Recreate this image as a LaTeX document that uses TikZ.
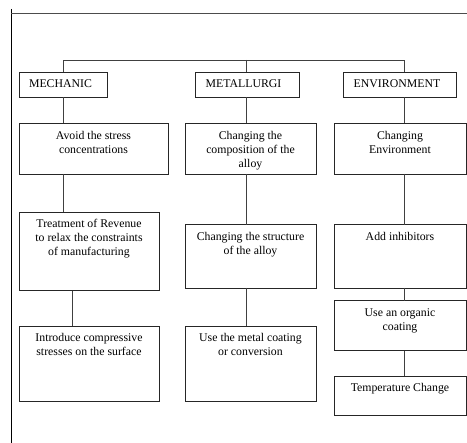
\documentclass[tikz,border=0pt]{standalone}
\usepackage{fontspec}
\setmainfont{Liberation Serif}
\begin{document}
\begin{tikzpicture}[x=1pt,y=-1pt,
  box/.style={draw=black!85, line width=0.8pt, inner sep=0pt, outer sep=0pt,
    font=\fontsize{11.8}{14}\selectfont},
  conn/.style={draw=black!75, line width=0.8pt},
  frame/.style={draw=black, line width=0.9pt}]
\useasboundingbox (0,0) rectangle (467,443);
\newcommand{\bx}[6]{%
  \node[box] (#1) at ({(#2)}, {(#3)}) {\parbox[c][#5pt][t]{#4pt}{\centering\rule{0pt}{15.8pt}#6\par}};}
% frame
\coordinate (ftop) at (11,9);
\coordinate (fbot) at (11,443);
\coordinate (fleft) at (11,13);
\coordinate (fright) at (467,13);
\draw[frame] (ftop) -- (fbot);
\draw[frame, draw=black!70] (fleft) -- (fright);
% column coordinates
\coordinate (cm) at (63,0);
\coordinate (cm2) at (72,0);
\coordinate (cc) at (246.5,0);
\coordinate (ce) at (404.3,0);
\coordinate (bus) at (0,60);
% level 1
\bx{mech}{(19+107)/2}{(72+97.3)/2}{88}{25.3}{MECHANIC\hspace*{5pt}}
\bx{met}{(195+299)/2}{(72+97.3)/2}{104}{25.3}{METALLURGI\hspace*{7pt}}
\bx{env}{(343+456)/2}{(72+97.3)/2}{113}{25.3}{ENVIRONMENT\hspace*{5pt}}
% level 2
\bx{mech2}{(19+168)/2}{(123.3+174)/2}{149}{50.7}{Avoid the stress\\concentrations}
\bx{met2}{(185+316)/2}{(123.3+174)/2}{131}{50.7}{Changing the\\composition of the\\alloy}
\bx{env2}{(334+466)/2}{(123.3+174)/2}{132}{50.7}{Changing\\Environment}
% level 3
\bx{mech3}{(19+159)/2}{(212+290.7)/2}{140}{78.7}{Treatment of Revenue\\to relax the constraints\\of manufacturing}
\bx{met3}{(185+316)/2}{(224.7+288)/2}{131}{63.3}{Changing the structure\\of the alloy}
\bx{env3}{(334+466)/2}{(224.7+288)/2}{132}{63.3}{Add inhibitors}
% level 4
\bx{mech4}{(19+159)/2}{(326+401.3)/2}{140}{75.3}{Introduce compressive\\stresses on the surface}
\bx{met4}{(185+316)/2}{(326+401.3)/2}{131}{75.3}{Use the metal coating\\or conversion}
\bx{env4}{(334+466)/2}{(300.7+350.7)/2}{132}{50}{Use an organic\\coating}
% level 5
\bx{env5}{(334+466)/2}{(376+415)/2}{132}{39}{Temperature Change}
% bus
\draw[conn] (mech.north -| cm) -- (bus -| cm) -- (bus -| ce) -- (env.north -| ce);
\draw[conn] (bus -| cc) -- (met.north -| cc);
% mechanic column
\draw[conn] (mech.south -| cm) -- (mech2.north -| cm);
\draw[conn] (mech2.south -| cm) -- (mech3.north -| cm);
\draw[conn] (mech3.south -| cm2) -- (mech4.north -| cm2);
% metallurgi column
\draw[conn] (met.south -| cc) -- (met2.north -| cc);
\draw[conn] (met2.south -| cc) -- (met3.north -| cc);
\draw[conn] (met3.south -| cc) -- (met4.north -| cc);
% environment column
\draw[conn] (env.south -| ce) -- (env2.north -| ce);
\draw[conn] (env2.south -| ce) -- (env3.north -| ce);
\draw[conn] (env3.south -| ce) -- (env4.north -| ce);
\draw[conn] (env4.south -| ce) -- (env5.north -| ce);
\end{tikzpicture}
\end{document}
